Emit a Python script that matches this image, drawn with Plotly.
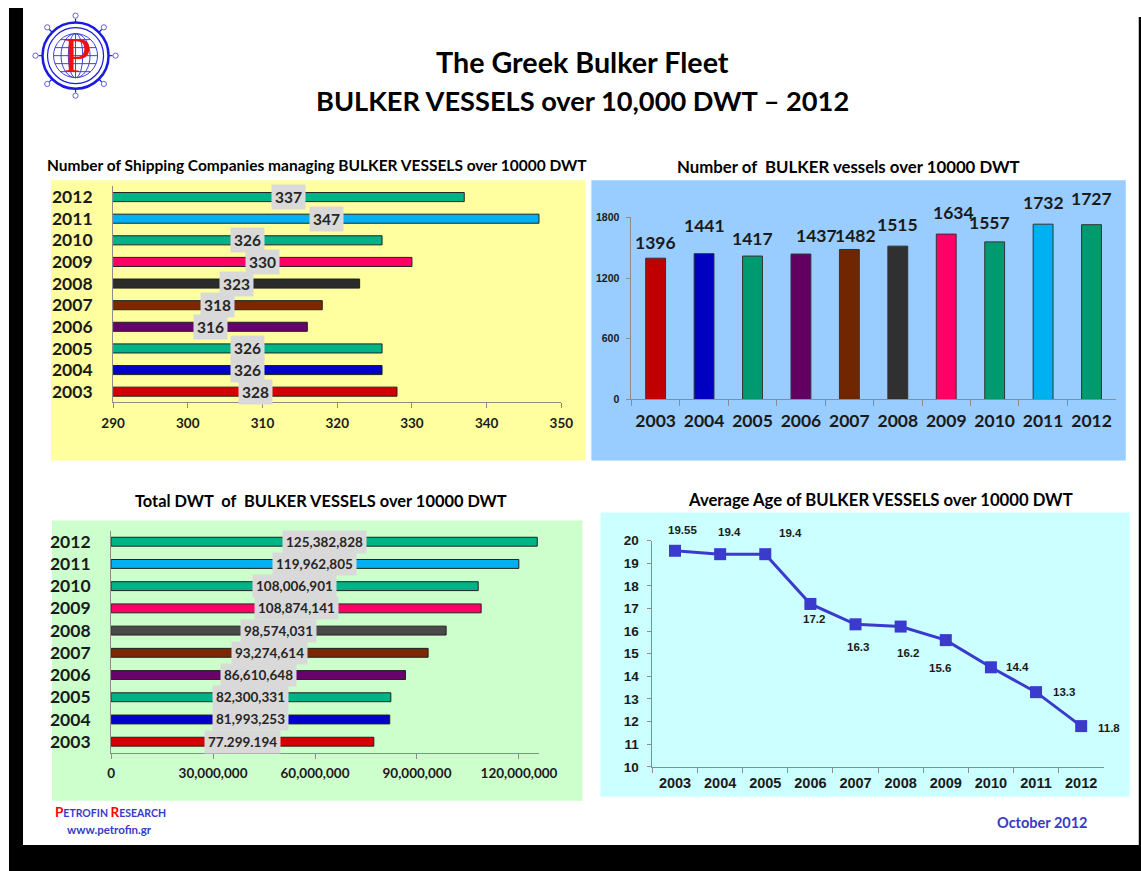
import math
import plotly.graph_objects as go

# ---- data -------------------------------------------------------------
years = ['2003', '2004', '2005', '2006', '2007', '2008', '2009', '2010', '2011', '2012']
companies = [328, 326, 326, 316, 318, 323, 330, 326, 347, 337]
vessels = [1396, 1441, 1417, 1437, 1482, 1515, 1634, 1557, 1732, 1727]
total_dwt = [77299194, 81993253, 82300331, 86610648, 93274614,
             98574031, 108874141, 108006901, 119962805, 125382828]
dwt_labels = ['77.299.194', '81,993,253', '82,300,331', '86,610,648', '93,274,614',
              '98,574,031', '108,874,141', '108,006,901', '119,962,805', '125,382,828']
avg_age = [19.55, 19.4, 19.4, 17.2, 16.3, 16.2, 15.6, 14.4, 13.3, 11.8]
dwt_ticks = [0, 30000000, 60000000, 90000000, 120000000]

# ---- sheet geometry -----------------------------------------------------
# Positions below are given in sheet pixels (a 1141 x 871 sheet); fx/fy turn
# them into paper fractions of the figure, which is drawn slightly larger and
# offset so that the sheet lands where intended on screen.
SX, SY = 0.9735, 0.982
OX, OY = 11.0, 7.9
W = round((1141 - OX) / SX)
H = round((871 - OY) / SY)


def fx(px):
    return ((px - OX) / SX) / W


def fy(py):
    return 1 - ((py - OY) / SY) / H


# ---- styling ----------------------------------------------------------
CAL = 'Lato'
ARL = 'Liberation Sans'
INK = '#1a1a1a'
AXIS = '#8c8c8c'
BLUE_TXT = '#3a3ac8'
CAT_RANGE = [-0.5, len(years) - 0.5]

hbar_colors = ['#d40000', '#0000c8', '#00b386', '#6a006a', '#7a2800',
               '#2b2b2b', '#ff0066', '#00b386', '#00b0f0', '#00b386']
hbar_colors_dwt = ['#d40000', '#0000c8', '#00b386', '#6a006a', '#7a2800',
                   '#4a4a4a', '#ff0066', '#00b386', '#00b0f0', '#00b386']
vbar_colors = ['#c00000', '#0000c0', '#009a70', '#620062', '#702600',
               '#303030', '#ff0066', '#009a70', '#00b0f0', '#009a70']
# label nudges (px) for the vessel-count labels and the age labels
vessel_lbl_shift = [(0, 16), (0, 28), (0, 18), (16, 19), (6, 14),
                    (0, 22), (7, 22), (-5, 19), (0, 22), (0, 26)]
age_lbl_shift = [(7, 21), (9, 22), (25, 21), (4, -15), (2, -23),
                 (7, -26), (-6, -28), (27, 0), (28, 0), (28, -2)]

fig = go.Figure()

# ---- top left: shipping companies ------------------------------------
fig.add_trace(go.Bar(
    x=companies, y=years, orientation='h', width=0.42,
    marker=dict(color=hbar_colors, line=dict(color='#222222', width=1)),
    xaxis='x', yaxis='y', hoverinfo='x+y'))

# ---- top right: vessel count -----------------------------------------
fig.add_trace(go.Bar(
    x=years, y=vessels, width=0.41,
    marker=dict(color=vbar_colors, line=dict(color='#333333', width=1)),
    xaxis='x2', yaxis='y2', hoverinfo='x+y'))

# ---- bottom left: total DWT ------------------------------------------
fig.add_trace(go.Bar(
    x=total_dwt, y=years, orientation='h', width=0.4,
    marker=dict(color=hbar_colors_dwt, line=dict(color='#222222', width=1)),
    xaxis='x3', yaxis='y3', hoverinfo='x+y'))

# ---- bottom right: average age ---------------------------------------
fig.add_trace(go.Scatter(
    x=years, y=avg_age, mode='lines+markers',
    line=dict(color='#3a3acc', width=3),
    marker=dict(symbol='square', size=12, color='#3a3acc'),
    xaxis='x4', yaxis='y4', cliponaxis=False, hoverinfo='x+y'))

ann = []

# value boxes on the company bars (centred on the visible part of the bar);
# annotation positions on category axes are given as category indices
for i, v in enumerate(companies):
    ann.append(dict(x=(290 + v) / 2, y=i, xref='x', yref='y', showarrow=False,
                    text=f'<b>{v}</b>', bgcolor='#d9d9d9', borderpad=3,
                    font=dict(family=CAL, size=15.5, color='#262626')))

# value labels above the vessel bars
for i, ((dx, dy), v) in enumerate(zip(vessel_lbl_shift, vessels)):
    ann.append(dict(x=i, y=v, xref='x2', yref='y2', showarrow=False,
                    text=f'<b>{v}</b>', yanchor='middle', xshift=dx, yshift=dy,
                    font=dict(family=CAL, size=17.5, color=INK)))

# value boxes on the DWT bars
for i, (v, lbl) in enumerate(zip(total_dwt, dwt_labels)):
    ann.append(dict(x=v / 2, y=i, xref='x3', yref='y3', showarrow=False,
                    text=f'<b>{lbl}</b>', bgcolor='#d9d9d9', borderpad=3,
                    font=dict(family=CAL, size=13.5, color='#262626')))

# average age labels
for i, ((dx, dy), v) in enumerate(zip(age_lbl_shift, avg_age)):
    ann.append(dict(x=i, y=v, xref='x4', yref='y4', showarrow=False,
                    text=f'<b>{v}</b>', xshift=dx, yshift=dy,
                    font=dict(family=ARL, size=11.5, color=INK)))


# headings
def heading(text, cx, cy, size, family=CAL, color='#000000'):
    ann.append(dict(x=fx(cx), y=fy(cy), xref='paper', yref='paper', showarrow=False,
                    text=text, xanchor='center', yanchor='middle',
                    font=dict(family=family, size=size, color=color)))


heading('<b>The Greek Bulker Fleet</b>', 581, 63, 28.7)
heading('<b>BULKER VESSELS over 10,000 DWT \u2013 2012</b>', 581, 101, 27.2)
heading('<b>Number of Shipping Companies managing BULKER VESSELS over 10000 DWT</b>', 316, 166, 15.5)
heading('<b>Number of\u00a0 BULKER vessels over 10000 DWT</b>', 847, 167, 16.8)
heading('<b>Total DWT\u00a0 of\u00a0 BULKER VESSELS over 10000 DWT</b>', 320, 501, 16.4)
heading('<b>Average Age of BULKER VESSELS over 10000 DWT</b>', 879, 500, 16.7)

# footer
ann.append(dict(x=fx(52), y=fy(812), xref='paper', yref='paper', showarrow=False,
                xanchor='left', yanchor='middle',
                text=('<b><span style="color:#ff0000;font-size:13.5px">P</span>'
                      '<span style="font-size:10.5px">ETROFIN </span>'
                      '<span style="color:#ff0000;font-size:13.5px">R</span>'
                      '<span style="font-size:10.5px">ESEARCH</span></b>'),
                font=dict(family=CAL, size=10.5, color=BLUE_TXT)))
ann.append(dict(x=fx(64), y=fy(830), xref='paper', yref='paper', showarrow=False,
                xanchor='left', yanchor='middle', text='<b>www.petrofin.gr</b>',
                font=dict(family=CAL, size=11.5, color=BLUE_TXT)))
ann.append(dict(x=fx(1088), y=fy(823), xref='paper', yref='paper', showarrow=False,
                xanchor='right', yanchor='middle', text='<b>October 2012</b>',
                font=dict(family=CAL, size=14.5, color=BLUE_TXT)))

# logo lettering
ann.append(dict(x=fx(76), y=fy(56), xref='paper', yref='paper', showarrow=False,
                xanchor='center', yanchor='middle', text='P',
                font=dict(family='Liberation Serif', size=51, color='#ee1111')))

# ---- shapes: sheet frame, panels, logo ----------------------------------
shapes = []


def rect(x0, y0, x1, y1, color, layer='below'):
    shapes.append(dict(type='rect', xref='paper', yref='paper', layer=layer,
                       x0=fx(x0), x1=fx(x1), y0=fy(y1), y1=fy(y0),
                       fillcolor=color, line=dict(width=0)))


# dark frame on the left, bottom and right of the sheet
rect(8, 9, 22, 871, '#000000')
rect(8, 845, 1141, 871, '#000000')
rect(1137, 18, 1141, 871, '#000000')

rect(50, 181, 584, 461, '#ffff9f')
rect(590, 181, 1124, 461, '#99ccff')
rect(51, 521, 581, 801, '#ccffcc')
rect(599, 513, 1128, 797, '#ccffff')


def ellipse(cx, cy, rx, ry, color, width, fill='rgba(0,0,0,0)'):
    shapes.append(dict(type='circle', xref='paper', yref='paper', layer='above',
                       x0=fx(cx - rx), x1=fx(cx + rx), y0=fy(cy + ry), y1=fy(cy - ry),
                       line=dict(color=color, width=width), fillcolor=fill))


def seg(x0, y0, x1, y1, color, width):
    shapes.append(dict(type='line', xref='paper', yref='paper', layer='above',
                       x0=fx(x0), x1=fx(x1), y0=fy(y0), y1=fy(y1),
                       line=dict(color=color, width=width)))


LCX, LCY = 74.5, 56.5
RING = '#1a1ae0'
GRID = '#4040e0'
ellipse(LCX, LCY, 33, 33, RING, 2.5)
ellipse(LCX, LCY, 28, 28, RING, 1.2)
gr = 22
ellipse(LCX, LCY, gr, gr, GRID, 1)
for k in (0.33, 0.66):
    ellipse(LCX, LCY, gr * k, gr, GRID, 1)
seg(LCX, LCY - gr, LCX, LCY + gr, GRID, 1)
for dy in (-16, -8, 0, 8, 16):
    hw = math.sqrt(gr * gr - dy * dy)
    seg(LCX - hw, LCY + dy, LCX + hw, LCY + dy, GRID, 1)
for i in range(8):
    a = math.radians(90 - 45 * i)
    ca, sa = math.cos(a), -math.sin(a)
    seg(LCX + 33 * ca, LCY + 33 * sa, LCX + 37 * ca, LCY + 37 * sa, RING, 1.2)
    ellipse(LCX + 40 * ca, LCY + 40 * sa, 2.6, 2.6, '#6060e0', 1, '#ffffff')


# ---- axes ---------------------------------------------------------------
def tick_font_cal(s):
    return dict(family=CAL, size=s, color=INK, weight='bold')


def tick_font_arl(s):
    return dict(family=ARL, size=s, color=INK, weight='bold')


base_ax = dict(showgrid=False, zeroline=False, showline=True, linecolor=AXIS,
               linewidth=1, tickcolor=AXIS, fixedrange=True)

fig.update_layout(
    width=W, height=H, margin=dict(l=0, r=0, t=0, b=0), autosize=False,
    paper_bgcolor='#ffffff', plot_bgcolor='rgba(0,0,0,0)',
    showlegend=False, barmode='overlay',
    shapes=shapes, annotations=ann,
    xaxis=dict(base_ax, domain=[fx(112), fx(560)], range=[290, 350], dtick=10,
               ticks='outside', ticklen=5, ticklabelstandoff=3,
               tickfont=tick_font_cal(13.5), anchor='y'),
    yaxis=dict(base_ax, domain=[fy(403), fy(187)], type='category',
               categoryorder='array', categoryarray=years, range=CAT_RANGE,
               ticks='', ticklabelstandoff=16, tickfont=tick_font_cal(17.5), anchor='x'),
    xaxis2=dict(base_ax, domain=[fx(630), fx(1114)], type='category',
                categoryorder='array', categoryarray=years, range=CAT_RANGE,
                ticks='outside', ticklen=6, tickson='boundaries', ticklabelstandoff=6,
                tickangle=0, tickfont=tick_font_cal(17.5), anchor='y2'),
    yaxis2=dict(base_ax, domain=[fy(400), fy(218)], range=[0, 1800], dtick=600,
                ticks='outside', ticklen=4, ticklabelstandoff=5,
                tickfont=tick_font_arl(10.5), anchor='x2'),
    xaxis3=dict(base_ax, domain=[fx(110), fx(538)], range=[0, 126000000],
                tickvals=dwt_ticks, ticktext=[f'{t:,}' for t in dwt_ticks],
                ticks='outside', ticklen=5, ticklabelstandoff=3,
                tickfont=tick_font_cal(13.5), anchor='y3'),
    yaxis3=dict(base_ax, domain=[fy(753), fy(531)], type='category',
                categoryorder='array', categoryarray=years, range=CAT_RANGE,
                ticks='', ticklabelstandoff=16, tickfont=tick_font_cal(17.5), anchor='x3'),
    xaxis4=dict(base_ax, domain=[fx(651), fx(1102)], type='category',
                categoryorder='array', categoryarray=years, range=CAT_RANGE,
                ticks='outside', ticklen=5, tickson='boundaries', ticklabelstandoff=3,
                tickangle=0, tickfont=tick_font_arl(14.5), anchor='y4'),
    yaxis4=dict(base_ax, domain=[fy(767), fy(541)], range=[10, 20], dtick=1,
                ticks='outside', ticklen=4, ticklabelstandoff=6,
                tickfont=tick_font_arl(13.5), anchor='x4'),
)

fig.write_html('out.html')
